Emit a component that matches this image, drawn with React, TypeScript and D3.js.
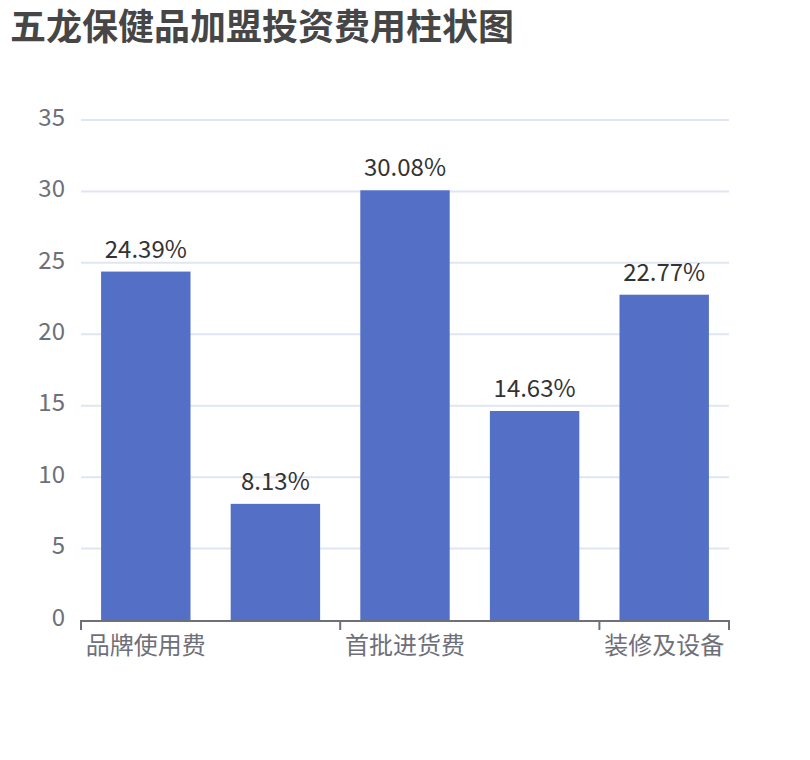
import React from 'react';
import * as d3 from 'd3';

// 五龙保健品加盟投资费用 (share of total, %)
const categories = ['品牌使用费', '加盟保证金', '首批进货费', '店面租金', '装修及设备'];
const values = [24.39, 8.13, 30.08, 14.63, 22.77];
const yTicks = [0, 5, 10, 15, 20, 25, 30, 35];

const W = 810;
const H = 760;
const margin = { top: 120, right: 81, bottom: 140, left: 81 };
const FONT = '"Noto Sans CJK SC", "Noto Sans", sans-serif';

const App: React.FC = () => {
  const x = d3.scaleBand<string>()
    .domain(categories)
    .range([margin.left, W - margin.right])
    .padding(0);

  const y = d3.scaleLinear()
    .domain([0, 35])
    .range([H - margin.bottom, margin.top]);

  const bw = x.bandwidth();
  const barW = bw * 0.69;
  const y0 = y(0);

  // only every other category label is shown (like the reference)
  const shown = categories.filter((_, i) => i % 2 === 0);
  const tickXs = [...shown.map(c => x(c) as number), W - margin.right];

  return (
    <svg width={W} height={H} style={{ position: 'absolute', left: 0, top: 0, background: '#fff' }}>
      <text x={10} y={40} fontFamily={FONT} fontSize={36} fontWeight="bold" fill="#464646">
        五龙保健品加盟投资费用柱状图
      </text>

      {/* grid lines */}
      {yTicks.filter(t => t > 0).map(t => (
        <line key={t} x1={margin.left} x2={W - margin.right} y1={y(t)} y2={y(t)}
          stroke="#E0E6F1" strokeWidth={2} />
      ))}

      {/* y labels */}
      {yTicks.map(t => (
        <text key={t} x={margin.left - 16} y={y(t)} dy="0.24em" textAnchor="end"
          fontFamily={FONT} fontSize={24} fill="#6E7079">{t}</text>
      ))}

      {/* bars */}
      {values.map((v, i) => {
        const cx = (x(categories[i]) as number) + bw / 2;
        return (
          <g key={categories[i]}>
            <rect x={cx - barW / 2} y={y(v)} width={barW} height={y0 - y(v)} fill="#5470C6" />
            <text x={cx} y={y(v) - 14} textAnchor="middle" fontFamily={FONT}
              fontSize={24} fill="#333">{v.toFixed(2)}%</text>
          </g>
        );
      })}

      {/* x axis */}
      <line x1={margin.left} x2={W - margin.right} y1={y0 + 1} y2={y0 + 1} stroke="#6E7079" strokeWidth={2} />
      {tickXs.map((tx, i) => (
        <line key={i} x1={tx} x2={tx} y1={y0} y2={y0 + 10} stroke="#6E7079" strokeWidth={2} />
      ))}
      {shown.map(c => (
        <text key={c} x={(x(c) as number) + bw / 2} y={y0 + 34} textAnchor="middle"
          fontFamily={FONT} fontSize={24} fill="#6E7079">{c}</text>
      ))}
    </svg>
  );
};

export default App;
